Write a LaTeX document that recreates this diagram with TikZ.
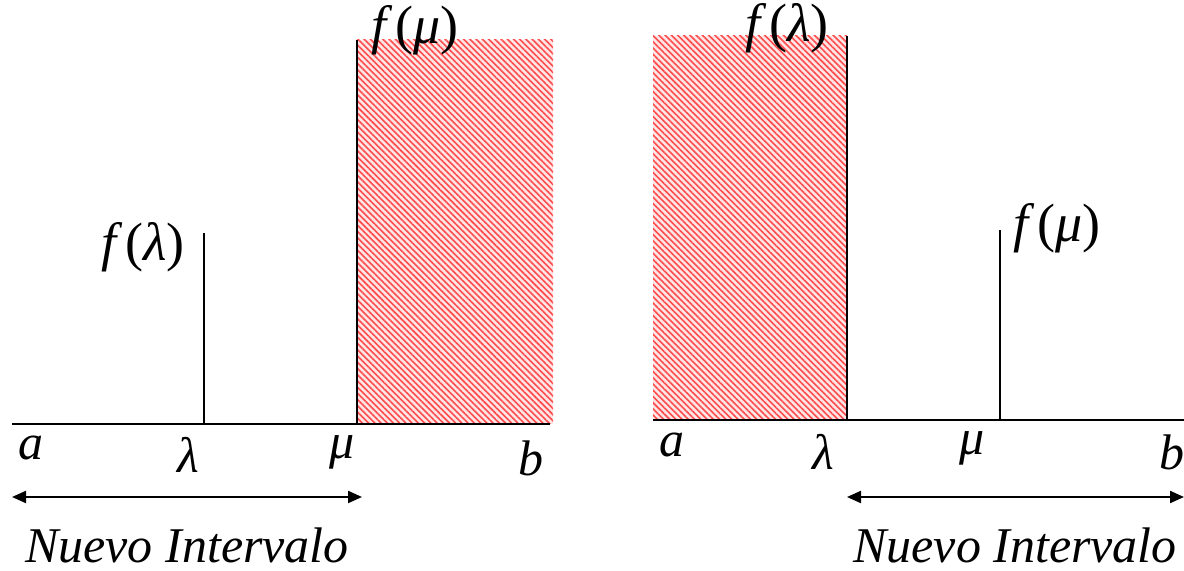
\documentclass[tikz,border=0pt]{standalone}
\usepackage{fontspec}
\setmainfont{LiberationSerif}[Extension=.ttf,UprightFont=*-Regular,ItalicFont=*-Italic,BoldFont=*-Bold]
\usetikzlibrary{patterns.meta,arrows.meta}
\newcommand{\fof}[1]{f\,\upshape(\itshape #1\/\upshape)}
\tikzset{
  lbl/.style={inner sep=0pt,font=\fontsize{25}{28}\selectfont\itshape},
  flbl/.style={inner sep=0pt,font=\fontsize{27}{30}\selectfont\itshape},
  axis/.style={line width=1.4pt},
  tick/.style={line width=1pt},
  hatch/.style={pattern={Lines[angle=-45,distance=2.2pt,line width=0.8pt]},pattern color=red!70},
  span/.style={line width=1.1pt,{Triangle[length=7pt,width=6pt]}-{Triangle[length=7pt,width=6pt]}}
}
\begin{document}
\begin{tikzpicture}[x=0.5pt,y=-0.5pt]
\useasboundingbox (0,0) rectangle (1184,571);
% ---------- left panel ----------
\fill[red!10] (357,40) rectangle (553,424);
\fill[hatch] (357,40) rectangle (553,424);
\coordinate (La) at (12,424);
\coordinate (Lb) at (550,424);
\coordinate (Llb) at (204,424);
\coordinate (Llt) at (204,233);
\coordinate (Lmb) at (357,424);
\coordinate (Lmt) at (357,40);
\draw[axis] (La) -- (Lb);
\draw[tick] (Llb) -- (Llt);
\draw[tick] (Lmb) -- (Lmt);
\node[flbl] (Lfl) at (143,247) {\fof{λ}};
\node[flbl] (Lfm) at (415,30) {\fof{μ}};
\node[lbl] (Lta) at (31,448) {a};
\node[lbl] (Ttl) at (188,455) {λ};
\node[lbl] (Ttm) at (342,452) {μ};
\node[lbl] (Ttb) at (531,458) {b};
\coordinate (LA1) at (12,497);
\coordinate (LA2) at (362,497);
\draw[span] (LA1) -- (LA2);
\node[lbl] (Lnv) at (187,545) {Nuevo Intervalo};
% ---------- right panel ----------
\fill[red!10] (653,36) rectangle (847,420);
\fill[hatch] (653,36) rectangle (847,420);
\coordinate (Ra) at (653,420);
\coordinate (Rb) at (1184,420);
\coordinate (Rlb) at (847,420);
\coordinate (Rlt) at (847,36);
\coordinate (Rmb) at (1000,420);
\coordinate (Rmt) at (1000,230);
\draw[axis] (Ra) -- (Rb);
\draw[tick] (Rlb) -- (Rlt);
\draw[tick] (Rmb) -- (Rmt);
\node[flbl] (Rfl) at (787,28) {\fof{λ}};
\node[flbl] (Rfm) at (1057,228) {\fof{μ}};
\node[lbl] (Rta) at (672,445) {a};
\node[lbl] (Rtl) at (823,452) {λ};
\node[lbl] (Rtm) at (972,448) {μ};
\node[lbl] (Rtb) at (1172,452) {b};
\coordinate (RA1) at (847,497);
\coordinate (RA2) at (1184,497);
\draw[span] (RA1) -- (RA2);
\node[lbl] (Rnv) at (1015,545) {Nuevo Intervalo};
\end{tikzpicture}
\end{document}
